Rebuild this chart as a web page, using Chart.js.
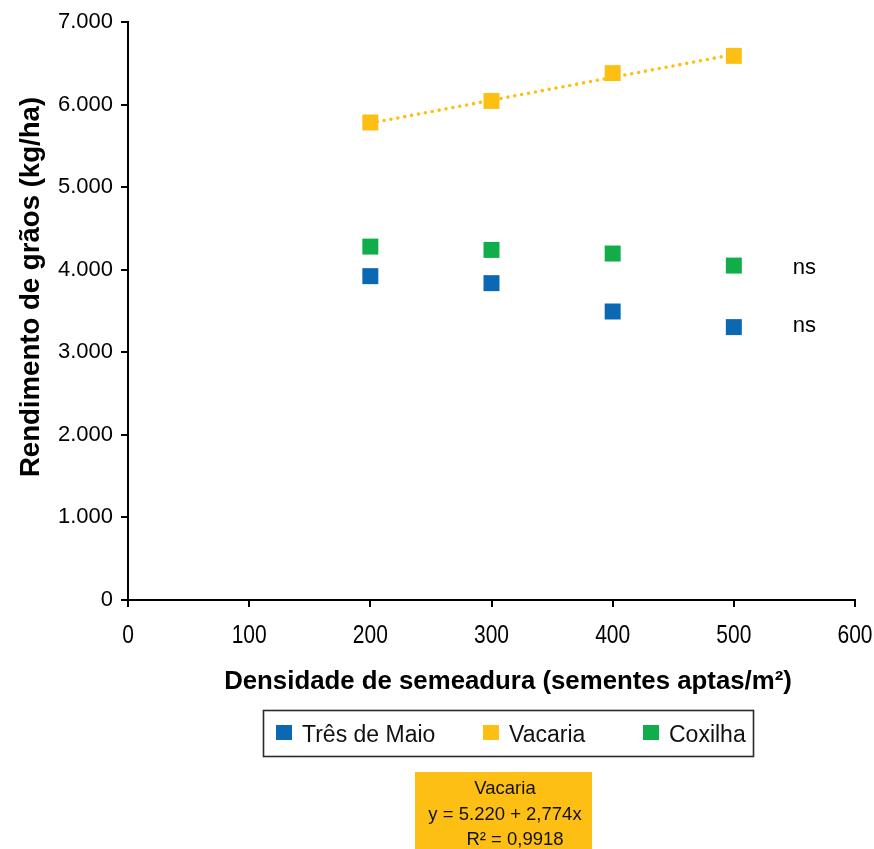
<!DOCTYPE html>
<html>
<head>
<meta charset="utf-8">
<script src="https://cdn.jsdelivr.net/npm/chart.js@4.4.0/dist/chart.umd.min.js"></script>
<style>
  html, body { margin: 0; padding: 0; background: #ffffff; }
  #wrap { width: 874px; height: 849px; position: relative; }
  canvas { display: block; }
</style>
</head>
<body>
<div id="wrap"><canvas id="grafico" width="874" height="849"></canvas></div>
<script>
// Densidade de semeadura (sementes aptas/m²)
const densidades = [200, 300, 400, 500];

// Rendimento de grãos (kg/ha) por local
const tresDeMaio = [3922, 3837, 3494, 3305];
const vacaria    = [5783, 6044, 6381, 6590];
const coxilha    = [4280, 4240, 4196, 4050];

const nomesLocais = ['Três de Maio', 'Vacaria', 'Coxilha'];
const coresLocais = ['#0b68b3', '#fdbf13', '#10ad4a'];

// Regressão linear ajustada para Vacaria
const vacariaIntercepto = 5220;
const vacariaInclinacao = 2.774;
const vacariaR2 = 0.9918;

// Marcas dos eixos
const ticksX = [0, 100, 200, 300, 400, 500, 600];
const ticksY = [0, 1000, 2000, 3000, 4000, 5000, 6000, 7000];

const FONTE = "'Liberation Sans', Arial, Helvetica, sans-serif";

function milhar(v) {
  return String(v).replace(/\B(?=(\d{3})+(?!\d))/g, '.');
}
function decimal(v) {
  return String(v).replace('.', ',');
}

function pontos(valores) {
  return densidades.map((x, i) => ({ x: x, y: valores[i] }));
}

const xMinReta = densidades[0];
const xMaxReta = densidades[densidades.length - 1];
const retaVacaria = [
  { x: xMinReta, y: vacariaIntercepto + vacariaInclinacao * xMinReta },
  { x: xMaxReta, y: vacariaIntercepto + vacariaInclinacao * xMaxReta }
];

const estiloPonto = (cor) => ({
  pointStyle: 'rect',
  pointRadius: 11.3,
  pointHoverRadius: 11.3,
  pointBackgroundColor: cor,
  pointBorderWidth: 0,
  backgroundColor: cor,
  borderColor: cor,
  showLine: false
});

// Textos extras: rótulos condensados do eixo X, títulos, legenda, equação e "ns"
const anotacoes = {
  id: 'anotacoes',
  afterDraw(chart) {
    const ctx = chart.ctx;
    const sx = chart.scales.x, sy = chart.scales.y;
    ctx.save();
    ctx.fillStyle = '#000';

    // rótulos do eixo X (fonte estreita)
    ctx.font = '25px ' + FONTE;
    ctx.textAlign = 'center';
    ctx.textBaseline = 'middle';
    ticksX.forEach((v) => {
      ctx.save();
      ctx.translate(sx.getPixelForValue(v), 636);
      ctx.scale(0.84, 1);
      ctx.fillText(String(v), 0, 0);
      ctx.restore();
    });

    // título do eixo Y
    ctx.save();
    ctx.translate(31, 287);
    ctx.rotate(-Math.PI / 2);
    ctx.font = 'bold 27.6px ' + FONTE;
    ctx.textAlign = 'center';
    ctx.textBaseline = 'middle';
    ctx.fillText('Rendimento de grãos (kg/ha)', 0, 0);
    ctx.restore();

    // título do eixo X
    ctx.font = 'bold 25.8px ' + FONTE;
    ctx.textAlign = 'center';
    ctx.textBaseline = 'middle';
    ctx.fillText('Densidade de semeadura (sementes aptas/m²)', 508, 682);

    // "ns" para as séries sem ajuste significativo
    const ultimo = densidades.length - 1;
    const px = sx.getPixelForValue(densidades[ultimo]) + 59;
    ctx.font = '22px ' + FONTE;
    ctx.textAlign = 'left';
    ctx.textBaseline = 'middle';
    ctx.fillText('ns', px, sy.getPixelForValue(coxilha[ultimo]) + 2);
    ctx.fillText('ns', px, sy.getPixelForValue(tresDeMaio[ultimo]) - 1);

    // legenda
    ctx.strokeStyle = '#2a2a2a';
    ctx.lineWidth = 1.6;
    ctx.strokeRect(263.5, 710.5, 490, 46);
    const xQuad = [276, 483, 643];
    const xTexto = [302, 509, 669];
    ctx.font = '23px ' + FONTE;
    ctx.textAlign = 'left';
    ctx.textBaseline = 'alphabetic';
    nomesLocais.forEach((nome, i) => {
      ctx.fillStyle = coresLocais[i];
      ctx.fillRect(xQuad[i], 725, 16, 15);
      ctx.fillStyle = '#111';
      ctx.fillText(nome, xTexto[i], 742);
    });

    // caixa da equação de Vacaria
    ctx.fillStyle = coresLocais[1];
    ctx.fillRect(415, 772, 177, 80);
    ctx.fillStyle = '#111';
    ctx.font = '18.5px ' + FONTE;
    ctx.textAlign = 'center';
    ctx.textBaseline = 'middle';
    ctx.fillText(nomesLocais[1], 505, 789);
    ctx.fillText('y = ' + milhar(vacariaIntercepto) + ' + ' + decimal(vacariaInclinacao) + 'x', 505, 815);
    ctx.fillText('R² = ' + decimal(vacariaR2), 515, 840);

    ctx.restore();
  }
};

new Chart(document.getElementById('grafico'), {
  type: 'scatter',
  data: {
    datasets: [
      Object.assign({ label: nomesLocais[0], data: pontos(tresDeMaio) }, estiloPonto(coresLocais[0])),
      Object.assign({ label: nomesLocais[1], data: pontos(vacaria) }, estiloPonto(coresLocais[1])),
      Object.assign({ label: nomesLocais[2], data: pontos(coxilha) }, estiloPonto(coresLocais[2])),
      {
        type: 'line',
        label: 'Linear (Vacaria)',
        data: retaVacaria,
        borderColor: coresLocais[1],
        borderWidth: 3.6,
        borderDash: [0, 7],
        borderCapStyle: 'round',
        pointRadius: 0,
        pointHoverRadius: 0,
        fill: false,
        showLine: true
      }
    ]
  },
  options: {
    responsive: false,
    animation: false,
    events: [],
    layout: { padding: { top: 22, right: 19, left: 0, bottom: 0 } },
    plugins: {
      legend: { display: false },
      tooltip: { enabled: false }
    },
    scales: {
      x: {
        type: 'linear',
        min: 0,
        max: 600,
        afterBuildTicks: (s) => { s.ticks = ticksX.map(v => ({ value: v })); },
        afterFit: (s) => { s.height = 249; },
        grid: { drawOnChartArea: false, drawTicks: true, tickLength: 7, color: '#000', lineWidth: 2 },
        border: { display: true, color: '#000', width: 2 },
        ticks: { display: false }
      },
      y: {
        type: 'linear',
        min: 0,
        max: 7000,
        afterBuildTicks: (s) => { s.ticks = ticksY.map(v => ({ value: v })); },
        afterFit: (s) => { s.width = 128; },
        grid: { drawOnChartArea: false, drawTicks: true, tickLength: 7, color: '#000', lineWidth: 2 },
        border: { display: true, color: '#000', width: 2 },
        ticks: {
          color: '#000',
          padding: 8,
          font: { family: FONTE, size: 22 },
          callback: (v) => milhar(v)
        }
      }
    }
  },
  plugins: [anotacoes]
});
</script>
</body>
</html>
